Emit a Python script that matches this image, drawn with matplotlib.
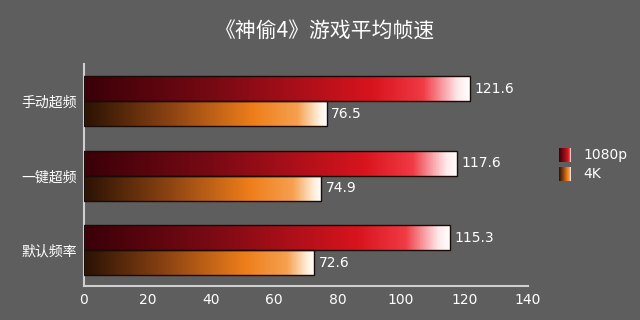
import numpy as np
import matplotlib
matplotlib.use('Agg')
import matplotlib.pyplot as plt
from matplotlib.colors import LinearSegmentedColormap
from matplotlib.patches import Rectangle

plt.rcParams['font.family'] = ['Noto Sans CJK SC', 'DejaVu Sans']

# data
categories = ['手动超频', '一键超频', '默认频率']
fps_1080p = [121.6, 117.6, 115.3]
fps_4k = [76.5, 74.9, 72.6]
series_names = ['1080p', '4K']
xticks = [0, 20, 40, 60, 80, 100, 120, 140]

bg = '#5e5e5e'
red_cmap = LinearSegmentedColormap.from_list(
    'red', [(0, '#3a0008'), (0.35, '#7a0a14'), (0.75, '#d8141e'),
            (0.88, '#f03a44'), (0.97, '#ffe8ea'), (1, '#ffffff')])
org_cmap = LinearSegmentedColormap.from_list(
    'org', [(0, '#2a1204'), (0.35, '#8a4212'), (0.7, '#ee7e1a'),
            (0.88, '#f6a050'), (0.97, '#fff0dc'), (1, '#ffffff')])

fig = plt.figure(figsize=(6.4, 3.2), dpi=100, facecolor=bg)
ax = fig.add_axes([0.131, 0.106, 0.694, 0.694], facecolor=bg)

h = 0.335
ypos = [2, 1, 0]
grad = np.linspace(0, 1, 256).reshape(1, -1)


def gbar(x0, y0, w, hh, cmap):
    im = ax.imshow(grad, cmap=cmap, aspect='auto',
                   extent=[x0, x0 + w, y0, y0 + hh], zorder=2)
    r = Rectangle((x0, y0), w, hh, facecolor='none', edgecolor='#1a0a08',
                  linewidth=1.0, zorder=3)
    ax.add_patch(r)
    im.set_clip_path(r)


for y, v1, v2 in zip(ypos, fps_1080p, fps_4k):
    gbar(0, y, v1, h, red_cmap)
    gbar(0, y - h, v2, h, org_cmap)
    ax.text(v1 + 1.5, y + h / 2, f'{v1}', color='white', fontsize=10,
            va='center', ha='left', family='DejaVu Sans')
    ax.text(v2 + 1.5, y - h / 2, f'{v2}', color='white', fontsize=10,
            va='center', ha='left', family='DejaVu Sans')

ax.set_xlim(0, 140)
ax.set_ylim(-0.48, 2.5)
ax.set_xticks(xticks)
ax.set_xticklabels([str(t) for t in xticks], color='white', fontsize=10,
                   family='DejaVu Sans')
ax.set_yticks(ypos)
ax.set_yticklabels(categories, color='white', fontsize=10)
ax.tick_params(length=0, pad=5)
for s in ['top', 'right']:
    ax.spines[s].set_visible(False)
for s in ['left', 'bottom']:
    ax.spines[s].set_color('#cfcfcf')
    ax.spines[s].set_linewidth(1.5)

fig.text(0.508, 0.905, '《神偷4》游戏平均帧速', color='white', fontsize=15,
         ha='center', va='center')

# legend
for i, (name, cm) in enumerate(zip(series_names, [red_cmap, org_cmap])):
    yy = 1 - (155 + 19 * i) / 320
    lax = fig.add_axes([559 / 640, yy - 0.022, 12 / 640, 0.044])
    lax.imshow(grad, cmap=cm, aspect='auto')
    lax.set_xticks([])
    lax.set_yticks([])
    for s in lax.spines.values():
        s.set_visible(False)
    fig.text(583 / 640, yy, name, color='white', fontsize=10, va='center',
             family='DejaVu Sans')

plt.savefig('out.png', dpi=100, facecolor=bg)
